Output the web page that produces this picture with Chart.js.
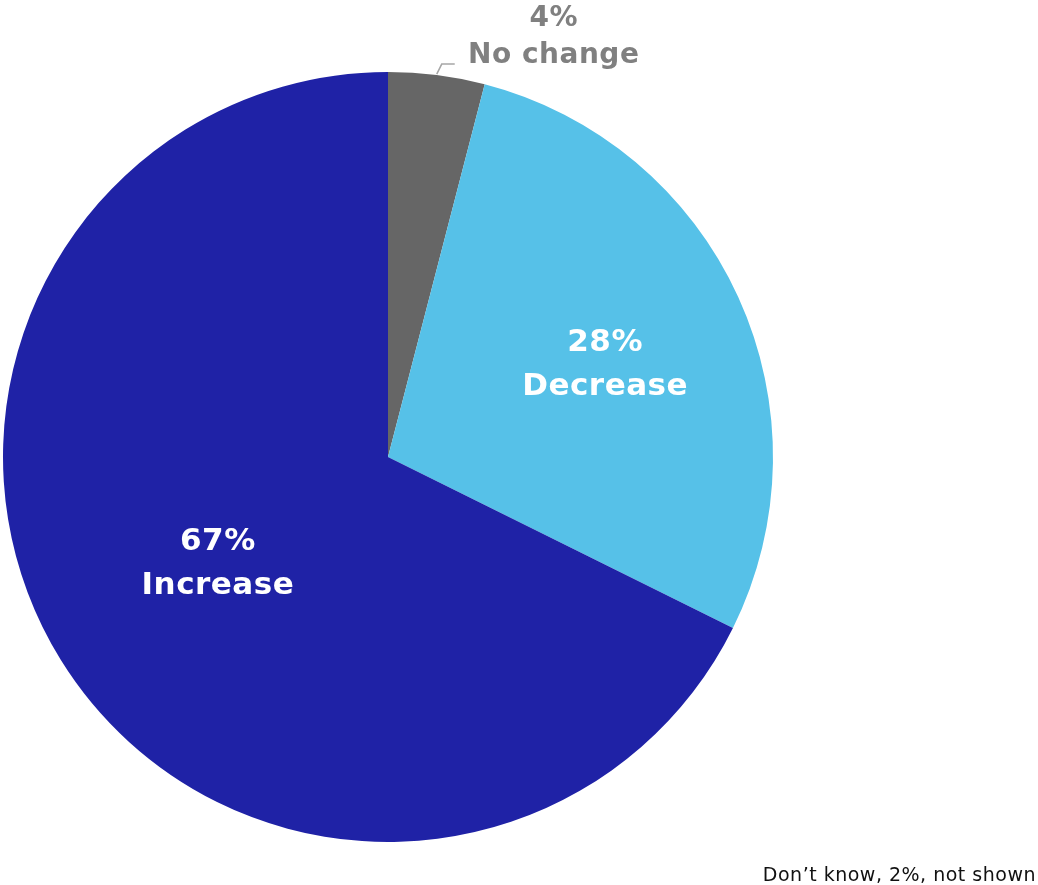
<!DOCTYPE html>
<html lang="en">
<head>
<meta charset="UTF-8">
<title>Pie</title>
<style>
  html, body { margin: 0; padding: 0; background: #fff; }
  #wrap { position: relative; width: 1038px; height: 885px; }
  #note { position: absolute; right: 2px; bottom: 0px; font: 19px "DejaVu Sans", sans-serif; letter-spacing: 0.5px; color: #111; }
</style>
</head>
<body>
<div id="wrap">
  <canvas id="myChart" width="1038" height="885"></canvas>
  <div id="note">Don’t know, 2%, not shown</div>
</div>
<script src="https://cdn.jsdelivr.net/npm/chart.js"></script>
<script>
  const categories = ['No change', 'Decrease', 'Increase'];
  const shares = [4, 28, 67];
  const colours = ['#666666', '#56C1E8', '#1F22A6'];

  // where each label sits along its slice, as a fraction of the radius
  const labelDepth = [1.0, 0.62, 0.52];

  const sliceLabels = {
    id: 'sliceLabels',
    afterDatasetsDraw(chart) {
      const ctx = chart.ctx;
      const arcs = chart.getDatasetMeta(0).data;
      ctx.save();
      ctx.textAlign = 'center';
      ctx.textBaseline = 'middle';
      arcs.forEach((arc, i) => {
        const mid = (arc.startAngle + arc.endAngle) / 2;
        const r = arc.outerRadius * labelDepth[i];
        const x = arc.x + Math.cos(mid) * r;
        const y = arc.y + Math.sin(mid) * r;
        if (i === 0) {
          // small slice: label outside with a short leader
          ctx.strokeStyle = '#a6a6a6';
          ctx.lineWidth = 1.5;
          ctx.beginPath();
          ctx.moveTo(x, y - 1);
          ctx.lineTo(x + 5, y - 11);
          ctx.lineTo(x + 18, y - 11);
          ctx.stroke();
          ctx.fillStyle = '#808080';
          ctx.font = 'bold 28px "DejaVu Sans", sans-serif';
          ctx.letterSpacing = '0.5px';
          ctx.fillText(shares[i] + '%', x + 117, y - 56);
          ctx.fillText(categories[i], x + 117, y - 19);
        } else {
          ctx.fillStyle = '#ffffff';
          ctx.font = 'bold 31px "DejaVu Sans", sans-serif';
          ctx.letterSpacing = '0.5px';
          const dy = i === 1 ? 6 : 0;
          ctx.fillText(shares[i] + '%', x, y - 21 + dy);
          ctx.fillText(categories[i], x, y + 23 + dy);
        }
      });
      ctx.restore();
    }
  };

  const ctx = document.getElementById('myChart');
  new Chart(ctx, {
    type: 'pie',
    data: {
      labels: categories,
      datasets: [{
        data: shares,
        backgroundColor: colours,
        borderWidth: 0
      }]
    },
    options: {
      responsive: false,
      animation: false,
      layout: { padding: { left: 3, top: 72, right: 265, bottom: 43 } },
      plugins: {
        legend: { display: false },
        tooltip: { enabled: false }
      }
    },
    plugins: [sliceLabels]
  });
</script>
</body>
</html>
